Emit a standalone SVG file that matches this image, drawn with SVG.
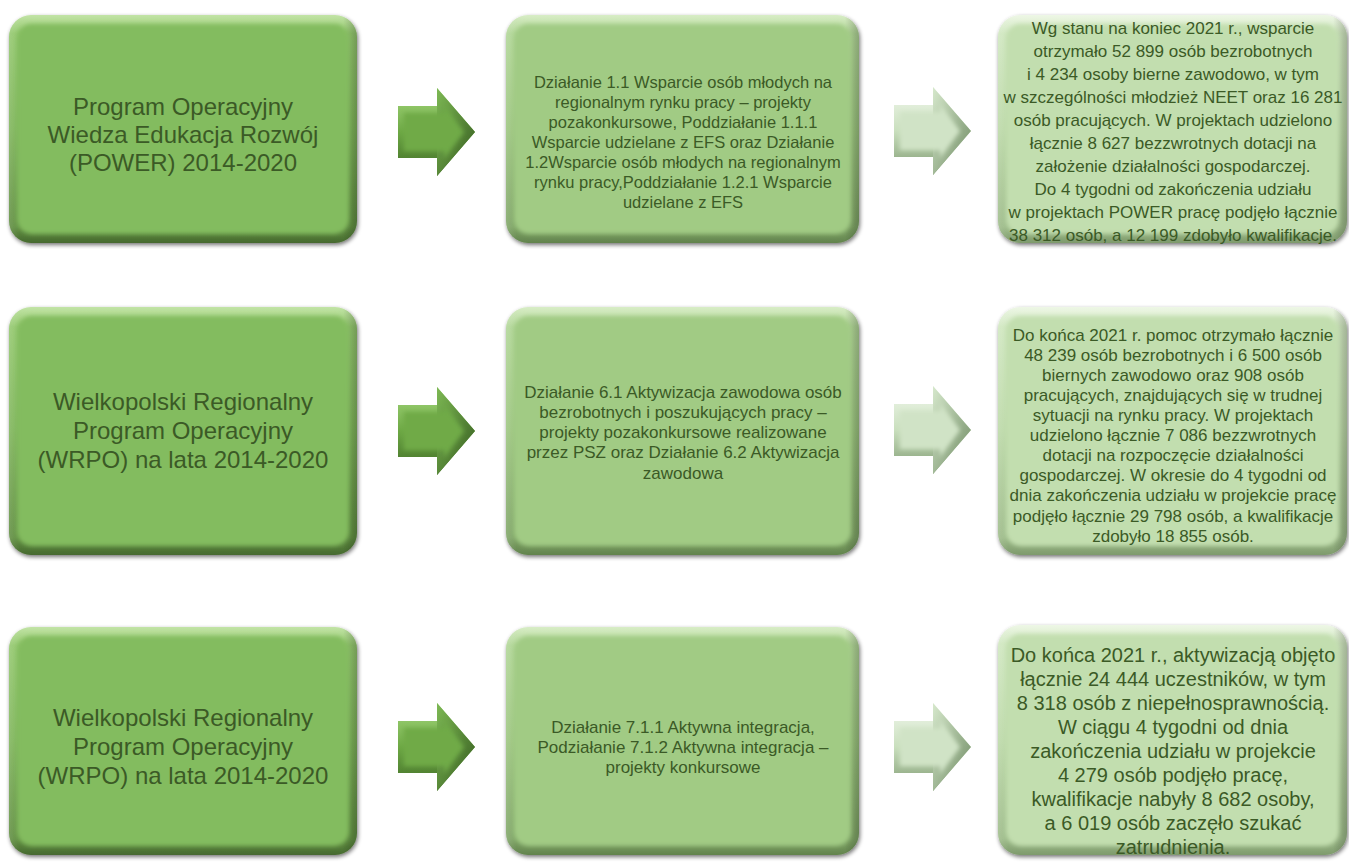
<svg xmlns="http://www.w3.org/2000/svg" width="1349" height="862" viewBox="0 0 1349 862">
<defs>
<style>
text{font-family:"Liberation Sans",Arial,sans-serif;fill:#3B5A26;text-anchor:middle}
.ta{font-size:24px}
.tb{font-size:16.5px}
.tc{font-size:17px}
.tc3{font-size:20px}
.face{filter:url(#soft)}
</style>
<filter id="sh" x="-5%" y="-5%" width="112%" height="115%">
<feGaussianBlur in="SourceAlpha" stdDeviation="2"/>
<feOffset dx="1" dy="2" result="o"/>
<feComponentTransfer><feFuncA type="linear" slope="0.55"/></feComponentTransfer>
<feMerge><feMergeNode/><feMergeNode in="SourceGraphic"/></feMerge>
</filter>
<filter id="soft" x="-5%" y="-5%" width="110%" height="110%"><feGaussianBlur stdDeviation="2.2"/></filter>
<linearGradient id="eA" x1="0" y1="0" x2="0" y2="1">
<stop offset="0" stop-color="#C2E4A6"/><stop offset="0.08" stop-color="#94C86F"/><stop offset="0.5" stop-color="#7FB55B"/><stop offset="0.93" stop-color="#618F42"/><stop offset="1" stop-color="#46692F"/>
</linearGradient>
<linearGradient id="eB" x1="0" y1="0" x2="0" y2="1">
<stop offset="0" stop-color="#D8EDC6"/><stop offset="0.08" stop-color="#B1D697"/><stop offset="0.5" stop-color="#9CC57F"/><stop offset="0.93" stop-color="#7FA566"/><stop offset="1" stop-color="#62834D"/>
</linearGradient>
<linearGradient id="eC" x1="0" y1="0" x2="0" y2="1">
<stop offset="0" stop-color="#EEF7E6"/><stop offset="0.08" stop-color="#D0E7C0"/><stop offset="0.5" stop-color="#BCD9A8"/><stop offset="0.93" stop-color="#9DBB89"/><stop offset="1" stop-color="#7E9A6C"/>
</linearGradient>
<linearGradient id="side" x1="0" y1="0" x2="1" y2="0">
<stop offset="0" stop-color="#fff" stop-opacity="0.12"/><stop offset="0.03" stop-color="#fff" stop-opacity="0"/><stop offset="0.96" stop-color="#000" stop-opacity="0"/><stop offset="1" stop-color="#000" stop-opacity="0.22"/>
</linearGradient>
<linearGradient id="gArr" x1="0" y1="0" x2="0" y2="1">
<stop offset="0" stop-color="#A6D97E"/><stop offset="0.5" stop-color="#6DA844"/><stop offset="1" stop-color="#3F6A26"/>
</linearGradient>
<linearGradient id="lArr" x1="0" y1="0" x2="0" y2="1">
<stop offset="0" stop-color="#F2F8EE"/><stop offset="0.5" stop-color="#C9DFBD"/><stop offset="1" stop-color="#7D9870"/>
</linearGradient>
<linearGradient id="gHead" x1="0" y1="0" x2="1" y2="1">
<stop offset="0" stop-color="#7DB854"/><stop offset="1" stop-color="#355B1F"/>
</linearGradient>
<linearGradient id="lHead" x1="0" y1="0" x2="1" y2="1">
<stop offset="0" stop-color="#D6E8CC"/><stop offset="1" stop-color="#6E8A62"/>
</linearGradient>
<path id="arrowShape" d="M0,-26 H39 V-44 L77,0 L39,44 V26 H0 Z"/>
<path id="arrowFace" d="M6,-19 H46 V-27 L66,0 L46,27 V19 H6 Z"/>
<g id="arrowG">
<use href="#arrowShape" fill="url(#gArr)"/>
<path d="M39,-44 L77,0 L39,44 Z" fill="url(#gHead)"/>
<use href="#arrowFace" fill="#6FAA46" class="face"/>
</g>
<g id="arrowL">
<use href="#arrowShape" fill="url(#lArr)"/>
<path d="M39,-44 L77,0 L39,44 Z" fill="url(#lHead)"/>
<use href="#arrowFace" fill="#D0E3C6" class="face"/>
</g>
</defs>
<rect width="1349" height="862" fill="#fff"/>

<g id="connectors">
<use href="#arrowG" x="398" y="132"/>
<use href="#arrowL" x="894" y="131"/>
<use href="#arrowG" x="398" y="431"/>
<use href="#arrowL" x="894" y="430"/>
<use href="#arrowG" x="398" y="747"/>
<use href="#arrowL" x="894" y="747"/>
</g>

<g id="program-power">
<g filter="url(#sh)"><rect x="9" y="15" width="348" height="228" rx="22" fill="url(#eA)"/><rect x="9" y="15" width="348" height="228" rx="22" fill="url(#side)"/></g>
<rect x="17" y="24" width="332" height="210" rx="15" fill="#83BC5F" class="face"/>
<text class="ta" x="183" y="115">Program Operacyjny</text>
<text class="ta" x="183" y="143">Wiedza Edukacja Rozwój</text>
<text class="ta" x="183" y="171">(POWER) 2014-2020</text>
</g>

<g id="dzialanie-1">
<g filter="url(#sh)"><rect x="506" y="15" width="353" height="228" rx="22" fill="url(#eB)"/><rect x="506" y="15" width="353" height="228" rx="22" fill="url(#side)"/></g>
<rect x="514" y="24" width="337" height="210" rx="15" fill="#A1CB84" class="face"/>
<text class="tb" x="683" y="88">Działanie 1.1 Wsparcie osób młodych na</text>
<text class="tb" x="683" y="108">regionalnym rynku pracy – projekty</text>
<text class="tb" x="683" y="128">pozakonkursowe, Poddziałanie 1.1.1</text>
<text class="tb" x="683" y="148">Wsparcie udzielane z EFS oraz Działanie</text>
<text class="tb" x="683" y="168">1.2Wsparcie osób młodych na regionalnym</text>
<text class="tb" x="683" y="188">rynku pracy,Poddziałanie 1.2.1 Wsparcie</text>
<text class="tb" x="683" y="208">udzielane z EFS</text>
</g>

<g id="wynik-power">
<g filter="url(#sh)"><rect x="998" y="15" width="349" height="228" rx="22" fill="url(#eC)"/><rect x="998" y="15" width="349" height="228" rx="22" fill="url(#side)"/></g>
<rect x="1006" y="24" width="333" height="210" rx="15" fill="#C2DEAF" class="face"/>
<text class="tc" x="1173" y="34">Wg stanu na koniec 2021 r., wsparcie</text>
<text class="tc" x="1173" y="57">otrzymało 52 899 osób bezrobotnych</text>
<text class="tc" x="1173" y="80">i 4 234 osoby bierne zawodowo, w tym</text>
<text class="tc" x="1173" y="103">w szczególności młodzież NEET oraz 16 281</text>
<text class="tc" x="1173" y="126">osób pracujących. W projektach udzielono</text>
<text class="tc" x="1173" y="149">łącznie 8 627 bezzwrotnych dotacji na</text>
<text class="tc" x="1173" y="172">założenie działalności gospodarczej.</text>
<text class="tc" x="1173" y="195">Do 4 tygodni od zakończenia udziału</text>
<text class="tc" x="1173" y="218">w projektach POWER pracę podjęło łącznie</text>
<text class="tc" x="1173" y="241">38 312 osób, a 12 199 zdobyło kwalifikacje.</text>
</g>

<g id="program-wrpo-1">
<g filter="url(#sh)"><rect x="9" y="307" width="348" height="248" rx="22" fill="url(#eA)"/><rect x="9" y="307" width="348" height="248" rx="22" fill="url(#side)"/></g>
<rect x="17" y="316" width="332" height="230" rx="15" fill="#83BC5F" class="face"/>
<text class="ta" x="183" y="410">Wielkopolski Regionalny</text>
<text class="ta" x="183" y="439">Program Operacyjny</text>
<text class="ta" x="183" y="468">(WRPO) na lata 2014-2020</text>
</g>

<g id="dzialanie-6">
<g filter="url(#sh)"><rect x="506" y="307" width="353" height="248" rx="22" fill="url(#eB)"/><rect x="506" y="307" width="353" height="248" rx="22" fill="url(#side)"/></g>
<rect x="514" y="316" width="337" height="230" rx="15" fill="#A1CB84" class="face"/>
<text class="tc" x="683" y="398">Działanie 6.1 Aktywizacja zawodowa osób</text>
<text class="tc" x="683" y="418">bezrobotnych i poszukujących pracy –</text>
<text class="tc" x="683" y="438">projekty pozakonkursowe realizowane</text>
<text class="tc" x="683" y="458">przez PSZ oraz Działanie 6.2 Aktywizacja</text>
<text class="tc" x="683" y="479">zawodowa</text>
</g>

<g id="wynik-wrpo-1">
<g filter="url(#sh)"><rect x="998" y="307" width="349" height="248" rx="22" fill="url(#eC)"/><rect x="998" y="307" width="349" height="248" rx="22" fill="url(#side)"/></g>
<rect x="1006" y="316" width="333" height="230" rx="15" fill="#C2DEAF" class="face"/>
<text class="tc" x="1173" y="341">Do końca 2021 r. pomoc otrzymało łącznie</text>
<text class="tc" x="1173" y="361">48 239 osób bezrobotnych i 6 500 osób</text>
<text class="tc" x="1173" y="381">biernych zawodowo oraz 908 osób</text>
<text class="tc" x="1173" y="401">pracujących, znajdujących się w trudnej</text>
<text class="tc" x="1173" y="421">sytuacji na rynku pracy. W projektach</text>
<text class="tc" x="1173" y="441">udzielono łącznie 7 086 bezzwrotnych</text>
<text class="tc" x="1173" y="461">dotacji na rozpoczęcie działalności</text>
<text class="tc" x="1173" y="481">gospodarczej. W okresie do 4 tygodni od</text>
<text class="tc" x="1173" y="501">dnia zakończenia udziału w projekcie pracę</text>
<text class="tc" x="1173" y="522">podjęło łącznie 29 798 osób, a kwalifikacje</text>
<text class="tc" x="1173" y="542">zdobyło 18 855 osób.</text>
</g>

<g id="program-wrpo-2">
<g filter="url(#sh)"><rect x="9" y="627" width="348" height="228" rx="22" fill="url(#eA)"/><rect x="9" y="627" width="348" height="228" rx="22" fill="url(#side)"/></g>
<rect x="17" y="636" width="332" height="210" rx="15" fill="#83BC5F" class="face"/>
<text class="ta" x="183" y="726">Wielkopolski Regionalny</text>
<text class="ta" x="183" y="755">Program Operacyjny</text>
<text class="ta" x="183" y="784">(WRPO) na lata 2014-2020</text>
</g>

<g id="dzialanie-7">
<g filter="url(#sh)"><rect x="506" y="627" width="353" height="228" rx="22" fill="url(#eB)"/><rect x="506" y="627" width="353" height="228" rx="22" fill="url(#side)"/></g>
<rect x="514" y="636" width="337" height="210" rx="15" fill="#A1CB84" class="face"/>
<text class="tc" x="683" y="733">Działanie 7.1.1 Aktywna integracja,</text>
<text class="tc" x="683" y="753">Podziałanie 7.1.2 Aktywna integracja –</text>
<text class="tc" x="683" y="773">projekty konkursowe</text>
</g>

<g id="wynik-wrpo-2">
<g filter="url(#sh)"><rect x="998" y="625" width="349" height="230" rx="22" fill="url(#eC)"/><rect x="998" y="625" width="349" height="230" rx="22" fill="url(#side)"/></g>
<rect x="1006" y="634" width="333" height="212" rx="15" fill="#C2DEAF" class="face"/>
<text class="tc3" x="1173" y="662">Do końca 2021 r., aktywizacją objęto</text>
<text class="tc3" x="1173" y="686">łącznie 24 444 uczestników, w tym</text>
<text class="tc3" x="1173" y="710">8 318 osób z niepełnosprawnością.</text>
<text class="tc3" x="1173" y="734">W ciągu 4 tygodni od dnia</text>
<text class="tc3" x="1173" y="758">zakończenia udziału w projekcie</text>
<text class="tc3" x="1173" y="782">4 279 osób podjęło pracę,</text>
<text class="tc3" x="1173" y="806">kwalifikacje nabyły 8 682 osoby,</text>
<text class="tc3" x="1173" y="830">a 6 019 osób zaczęło szukać</text>
<text class="tc3" x="1173" y="854">zatrudnienia.</text>
</g>
</svg>
